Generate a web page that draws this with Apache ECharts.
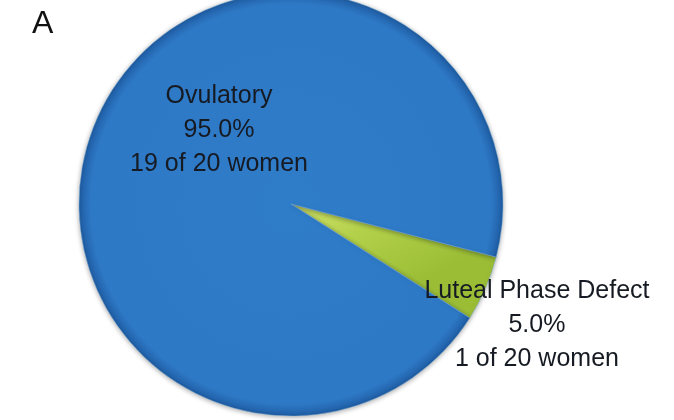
<!DOCTYPE html>
<html>
<head>
<meta charset="utf-8">
<style>
  html, body { margin: 0; padding: 0; background: #ffffff; }
  #chart { width: 674px; height: 420px; }
</style>
<script src="https://cdn.jsdelivr.net/npm/echarts@6/dist/echarts.min.js"></script>
</head>
<body>
<div id="chart"></div>
<script>
// Menstrual cycle outcome per woman
const categories = ['Luteal Phase Defect', 'Ovulatory'];
const women = [1, 19];
const panelLetter = 'A';

const total = women.reduce((a, b) => a + b, 0);

// Blue slice: flat fill with a darker rim
const blueFill = {
  type: 'radial', x: 0.5, y: 0.5, r: 0.5,
  colorStops: [
    { offset: 0, color: '#2f7cc9' },
    { offset: 0.94, color: '#2e79c6' },
    { offset: 0.985, color: '#2364ad' },
    { offset: 1, color: '#1a5596' }
  ]
};
// Green slice: yellow highlight fading to olive green
const greenFill = {
  type: 'linear', x: 0, y: 0, x2: 0.3, y2: 1,
  colorStops: [
    { offset: 0, color: '#d0e36c' },
    { offset: 0.45, color: '#b3d04a' },
    { offset: 1, color: '#9bbd36' }
  ]
};

const labelOffsets = {
  'Ovulatory': [28, -30],
  'Luteal Phase Defect': [146, 78]
};

const chart = echarts.init(document.getElementById('chart'), null, { renderer: 'canvas' });
chart.setOption({
  backgroundColor: '#ffffff',
  animation: false,
  graphic: [{
    type: 'text', left: 32, top: 8,
    style: { text: panelLetter, font: '32px "Liberation Sans", Arial, sans-serif', fill: '#111111' }
  }],
  series: [{
    type: 'pie',
    center: [291, 204],
    radius: [0, 212],
    startAngle: -14.5,
    clockwise: true,
    avoidLabelOverlap: false,
    labelLine: { show: false },
    itemStyle: {
      borderColor: 'rgba(120,175,225,0.45)',
      borderWidth: 1,
      shadowColor: 'rgba(0,0,0,0.35)',
      shadowBlur: 5,
      shadowOffsetY: 1
    },
    data: categories.map((name, i) => ({
      name: name,
      value: women[i],
      itemStyle: { color: i === 0 ? greenFill : blueFill },
      label: { offset: labelOffsets[name] }
    })),
    label: {
      show: true,
      position: 'inside',
      color: '#161a22',
      fontFamily: '"Liberation Sans", Arial, sans-serif',
      fontSize: 25,
      lineHeight: 34,
      align: 'center',
      formatter: p => p.name + '\n' + p.percent.toFixed(1) + '%\n' + p.value + ' of ' + total + ' women'
    }
  }]
});
</script>
</body>
</html>
